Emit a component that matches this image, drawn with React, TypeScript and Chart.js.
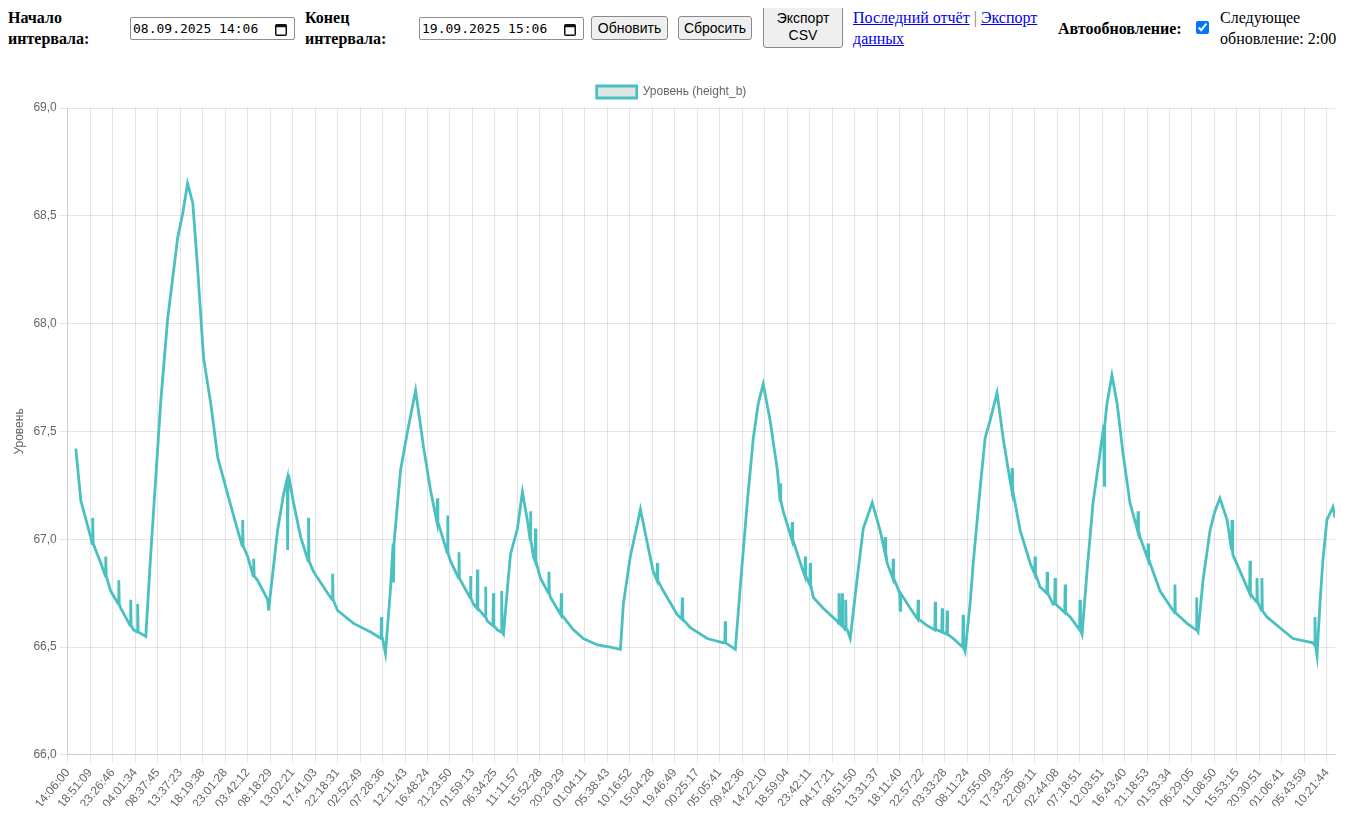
import React, { useEffect, useRef } from "react";
import { Chart, registerables } from "chart.js";

Chart.register(...registerables);

const tickLabels = [
  "14:06:00", "18:51:09", "23:26:46", "04:01:34", "08:37:45", "13:37:23", "18:19:38", "23:01:28",
  "03:42:12", "08:18:29", "13:02:21", "17:41:03", "22:18:31", "02:52:49", "07:28:36", "12:11:43",
  "16:48:24", "21:23:50", "01:59:13", "06:34:25", "11:11:57", "15:52:28", "20:29:29", "01:04:11",
  "05:38:43", "10:16:52", "15:04:28", "19:46:49", "00:25:17", "05:05:41", "09:42:36", "14:22:10",
  "18:59:04", "23:42:11", "04:17:21", "08:51:50", "13:31:37", "18:11:40", "22:57:22", "03:33:28",
  "08:11:24", "12:55:09", "17:33:35", "22:09:11", "02:44:08", "07:18:51", "12:03:51", "16:43:40",
  "21:18:53", "01:53:34", "06:29:05", "11:08:50", "15:53:15", "20:30:51", "01:06:41", "05:43:59",
  "10:21:44",
];

// position along the time axis, in units of tick label steps
const basePos = [
  0.36, 0.58, 1.02, 1.47, 1.91, 2.36, 2.93, 3.47, 3.69, 4.13, 4.44, 4.89, 5.11, 5.33, 5.56, 5.78,
  6.04, 6.36, 6.67, 7.11, 7.56, 8.0, 8.44, 8.89, 8.93, 9.33, 9.6, 9.82, 10.04, 10.36, 10.93, 11.56,
  12.0, 12.71, 13.47, 14.0, 14.13, 14.36, 14.67, 14.8, 15.11, 15.47, 15.82, 16.13, 16.58, 17.02,
  17.47, 18.04, 18.67, 19.11, 19.38, 19.56, 19.69, 20.0, 20.22, 20.44, 20.71, 21.02, 21.47, 22.04,
  22.49, 22.93, 23.56, 24.13, 24.58, 24.71, 25.02, 25.33, 25.47, 25.78, 26.04, 26.49, 27.11, 27.69,
  28.44, 29.16, 29.69, 29.91, 30.22, 30.49, 30.71, 30.93, 31.24, 31.56, 31.82, 32.27, 32.71, 33.16,
  33.6, 34.22, 34.67, 34.8, 35.11, 35.38, 35.78, 36.13, 36.44, 36.89, 37.47, 38.22, 38.67, 39.38,
  39.91, 40.13, 40.27, 40.58, 40.8, 41.02, 41.33, 41.6, 41.91, 42.36, 42.8, 43.24, 43.82, 44.58,
  45.11, 45.33, 45.6, 45.91, 46.22, 46.44, 46.67, 46.93, 47.24, 47.69, 48.13, 48.58, 49.16, 49.78,
  50.27, 50.49, 50.8, 51.02, 51.24, 51.56, 51.82, 52.27, 52.71, 53.33, 53.91, 54.49, 55.38, 55.56,
  55.69, 55.82, 56.0, 56.27, 56.36,
];

const baseLevel = [
  67.42, 67.18, 67.01, 66.89, 66.76, 66.68, 66.58, 66.55, 66.93, 67.63, 68.02, 68.4, 68.51, 68.65,
  68.56, 68.25, 67.84, 67.63, 67.38, 67.21, 67.04, 66.92, 66.81, 66.72, 66.67, 67.04, 67.21, 67.3,
  67.17, 67.01, 66.85, 66.75, 66.67, 66.61, 66.57, 66.54, 66.47, 66.78, 67.17, 67.32, 67.5, 67.69,
  67.43, 67.23, 67.04, 66.9, 66.81, 66.7, 66.62, 66.58, 66.56, 66.78, 66.93, 67.05, 67.22, 67.09,
  66.92, 66.82, 66.73, 66.64, 66.58, 66.54, 66.51, 66.5, 66.49, 66.7, 66.92, 67.07, 67.14, 66.98,
  66.85, 66.76, 66.65, 66.59, 66.54, 66.52, 66.49, 66.78, 67.17, 67.47, 67.63, 67.72, 67.55, 67.32,
  67.13, 66.99, 66.85, 66.73, 66.68, 66.62, 66.58, 66.54, 66.82, 67.05, 67.17, 67.04, 66.89, 66.78,
  66.68, 66.6, 66.58, 66.54, 66.48, 66.7, 66.89, 67.24, 67.47, 67.55, 67.68, 67.47, 67.27, 67.04,
  66.89, 66.78, 66.7, 66.64, 66.56, 66.85, 67.17, 67.4, 67.63, 67.76, 67.63, 67.4, 67.17, 67.01,
  66.89, 66.76, 66.67, 66.61, 66.57, 66.81, 67.04, 67.13, 67.19, 67.09, 66.93, 66.82, 66.73, 66.64,
  66.59, 66.54, 66.52, 66.46, 66.7, 66.9, 67.09, 67.15, 67.1,
];

// short sensor spikes: position, level around it, level at the spike
const spikePos = [
  1.11, 1.69, 2.27, 2.8, 3.11, 7.78, 8.27, 9.78, 10.71, 11.78, 13.95, 14.49, 16.44, 16.89, 17.4,
  17.91, 18.22, 18.58, 18.93, 19.3, 20.58, 20.8, 21.4, 21.95, 26.22, 27.33, 29.24, 31.7, 32.22,
  32.8, 33.02, 34.3, 34.44, 34.6, 36.36, 36.71, 37.02, 37.82, 38.58, 38.89, 39.11, 39.82, 42.0,
  43.02, 43.56, 43.91, 44.36, 45.02, 46.1, 47.6, 48.05, 49.24, 50.2, 51.78, 52.58, 52.89, 53.11,
  55.47,
];
const spikeBase = [
  66.98, 66.83, 66.7, 66.6, 66.57, 66.97, 66.83, 67.28, 66.9, 66.72, 66.54, 66.98, 67.08, 66.94,
  66.82, 66.73, 66.68, 66.64, 66.6, 66.57, 67.0, 66.9, 66.75, 66.65, 66.81, 66.63, 66.52, 67.18,
  67.0, 66.83, 66.79, 66.61, 66.6, 66.58, 66.94, 66.82, 66.75, 66.63, 66.58, 66.57, 66.56, 66.5,
  67.23, 66.84, 66.75, 66.7, 66.66, 66.58, 67.53, 67.04, 66.91, 66.66, 66.58, 66.95, 66.75, 66.71,
  66.67, 66.51,
];
const spikePeak = [
  67.1, 66.92, 66.81, 66.72, 66.7, 67.09, 66.91, 66.95, 67.1, 66.84, 66.64, 66.8, 67.19, 67.11,
  66.94, 66.83, 66.86, 66.78, 66.75, 66.76, 67.13, 67.05, 66.85, 66.75, 66.89, 66.73, 66.62, 67.26,
  67.08, 66.92, 66.89, 66.75, 66.75, 66.72, 67.01, 66.91, 66.67, 66.72, 66.71, 66.68, 66.67, 66.65,
  67.33, 66.92, 66.85, 66.82, 66.79, 66.72, 67.25, 67.13, 66.98, 66.79, 66.73, 67.09, 66.9, 66.82,
  66.82, 66.64,
];

const TEAL = "rgb(75, 192, 192)";
const SERIF = "'Liberation Serif', 'Times New Roman', serif";
const SANS = "'Liberation Sans', Arial, sans-serif";

function CalendarIcon() {
  return (
    <svg width="12" height="13" viewBox="0 0 12 13" style={{ position: "absolute", right: 7, top: 5 }}>
      <rect x="0.75" y="1.75" width="10.5" height="10.5" rx="1" fill="none" stroke="#111" strokeWidth="1.5" />
      <rect x="0.75" y="1.75" width="10.5" height="2.5" fill="#111" />
    </svg>
  );
}

function DateBox({ left, value }: { left: number; value: string }) {
  return (
    <div
      style={{
        position: "absolute",
        left,
        top: 9,
        width: 161,
        height: 21,
        border: "1px solid #8f8f8f",
        borderRadius: 2,
        background: "#fff",
        fontFamily: "'DejaVu Sans Mono', monospace",
        fontSize: 13,
        lineHeight: "21px",
        paddingLeft: 2,
        boxSizing: "content-box",
        color: "#000",
        whiteSpace: "nowrap",
      }}
    >
      {value}
      <CalendarIcon />
    </div>
  );
}

function Btn({ left, top, width, height, children }: any) {
  return (
    <div
      style={{
        position: "absolute",
        left,
        top,
        width,
        height,
        boxSizing: "border-box",
        background: "#efefef",
        border: "1px solid #8a8a8a",
        borderRadius: 3,
        fontFamily: SANS,
        fontSize: 14,
        lineHeight: "17px",
        color: "#000",
        display: "flex",
        alignItems: "center",
        justifyContent: "center",
        textAlign: "center",
      }}
    >
      <span>{children}</span>
    </div>
  );
}

export default function App() {
  const canvasRef = useRef<HTMLCanvasElement | null>(null);

  useEffect(() => {
    document.documentElement.style.overflow = "hidden";
    const base = basePos.map((x, i) => ({ x, y: baseLevel[i] }));
    const spikes = spikePos.flatMap((x, i) => [
      { x: x - 0.02, y: spikeBase[i] },
      { x, y: spikePeak[i] },
      { x: x + 0.02, y: spikeBase[i] },
    ]);
    const points = [...base, ...spikes].sort((a, b) => a.x - b.x);

    Chart.defaults.font.family = SANS;
    Chart.defaults.color = "#666";

    const chart = new Chart(canvasRef.current as HTMLCanvasElement, {
      type: "line",
      data: {
        datasets: [
          {
            label: "Уровень (height_b)",
            data: points,
            borderColor: TEAL,
            backgroundColor: "#dfe6e6",
            borderWidth: 2.8,
            pointRadius: 0,
            tension: 0,
            fill: false,
          },
        ],
      },
      options: {
        animation: false,
        responsive: true,
        maintainAspectRatio: false,
        layout: { padding: { right: 9, bottom: 0 } },
        plugins: {
          legend: {
            display: true,
            position: "top",
            labels: { color: "#666", font: { size: 12 }, boxWidth: 40, padding: 13 },
          },
          tooltip: { enabled: false },
        },
        scales: {
          x: {
            type: "linear",
            min: 0,
            max: 56.36,
            ticks: {
              stepSize: 1,
              autoSkip: false,
              includeBounds: false,
              minRotation: 50,
              maxRotation: 50,
              color: "#666",
              font: { size: 12 },
              callback: (v: any) => {
                const n = Number(v);
                return Number.isInteger(n) ? tickLabels[n] ?? "" : "";
              },
            },
            grid: { color: "rgba(0,0,0,0.1)" },
          },
          y: {
            min: 66,
            max: 69,
            ticks: {
              stepSize: 0.5,
              color: "#666",
              font: { size: 12 },
              callback: (v: any) => Number(v).toFixed(1).replace(".", ","),
            },
            grid: { color: "rgba(0,0,0,0.1)" },
            title: { display: true, text: "Уровень", color: "#666", font: { size: 12 } },
          },
        },
      },
    });
    return () => chart.destroy();
  }, []);

  const label: React.CSSProperties = {
    position: "absolute",
    fontFamily: SERIF,
    fontSize: 16,
    lineHeight: "21px",
    color: "#000",
  };

  return (
    <div style={{ position: "relative", width: 1336, height: 798 }}>
      <div style={{ ...label, left: 0, top: -1, width: 100, fontWeight: "bold" }}>Начало интервала:</div>
      <DateBox left={122} value="08.09.2025 14:06" />
      <div style={{ ...label, left: 297, top: -1, width: 100, fontWeight: "bold" }}>Конец интервала:</div>
      <DateBox left={411} value="19.09.2025 15:06" />
      <Btn left={583} top={8} width={77} height={24}>Обновить</Btn>
      <Btn left={670} top={8} width={74} height={24}>Сбросить</Btn>
      <Btn left={755} top={-2} width={80} height={42}>Экспорт<br />CSV</Btn>
      <div style={{ ...label, left: 845, top: -1, width: 195 }}>
        <a href="#" style={{ color: "#0000ee" }}>Последний отчёт</a>
        <span style={{ color: "#777" }}> | </span>
        <a href="#" style={{ color: "#0000ee" }}>Экспорт данных</a>
      </div>
      <div style={{ ...label, left: 1050, top: 10, fontWeight: "bold", whiteSpace: "nowrap" }}>Автообновление:</div>
      <input
        type="checkbox"
        defaultChecked
        style={{ position: "absolute", left: 1188, top: 13, width: 13, height: 13, margin: 0 }}
      />
      <div style={{ ...label, left: 1212, top: -1, width: 130 }}>Следующее обновление: 2:00</div>
      <div style={{ position: "absolute", left: 0, top: 65, width: 1336, height: 741 }}>
        <canvas ref={canvasRef} />
      </div>
    </div>
  );
}
